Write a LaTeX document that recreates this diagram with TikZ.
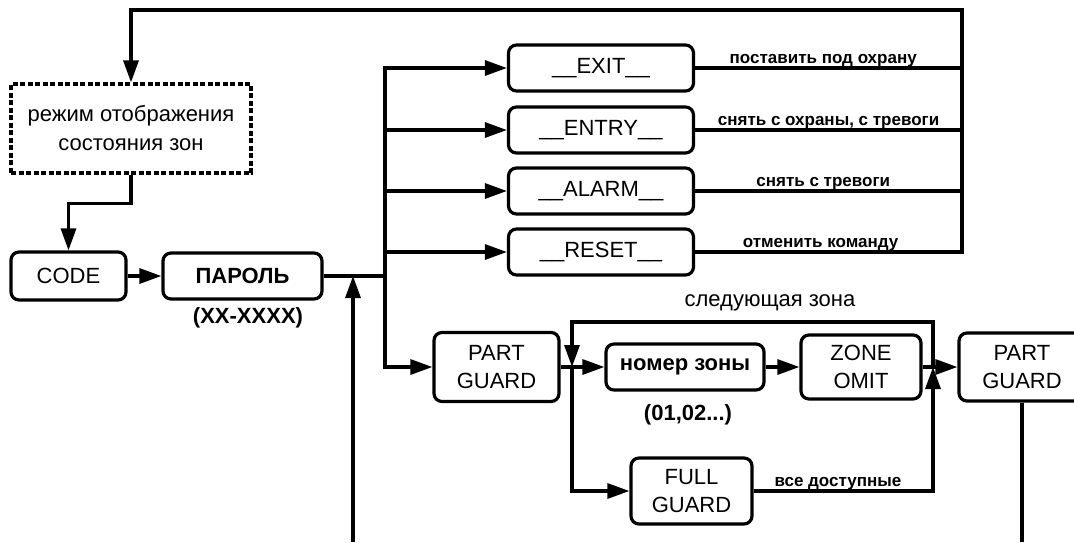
\documentclass[tikz,border=0pt]{standalone}
\usepackage{fontspec}
\setmainfont{Liberation Sans}
\usetikzlibrary{arrows.meta,calc}
\begin{document}
\begin{tikzpicture}[x=1pt,y=-1pt,line width=3.2pt,
  box/.style={draw, rounded corners=8pt, font=\fontsize{22}{28}\selectfont, align=center, inner sep=0pt},
  modebox/.style={draw, dash pattern=on 5pt off 2.5pt, font=\fontsize{22}{29}\selectfont, align=center, inner sep=0pt},
  bold/.style={font=\bfseries\fontsize{22}{27}\selectfont},
  note/.style={font=\bfseries\fontsize{22}{27}\selectfont, anchor=base, inner sep=0pt},
  arr/.style={-{Triangle[length=22pt,width=15pt]}},
  lbl/.style={font=\bfseries\fontsize{17}{19}\selectfont, inner sep=0pt, anchor=base, yshift=4.5pt},
  plain/.style={font=\fontsize{22}{27}\selectfont, anchor=base, inner sep=0pt}
]
\useasboundingbox (0,0) rectangle (1074,542);
\clip (0,0) rectangle (1074,542);

% nodes
\node[modebox, minimum width=240pt, minimum height=89pt] (mode) at (131,128.5) {режим отображения\\состояния зон};
\node[box, minimum width=115pt, minimum height=48pt] (code) at (68.5,276) {CODE};
\node[box, bold, minimum width=159pt, minimum height=46pt] (pass) at (242.5,276) {ПАРОЛЬ};
\node[note] (passnote) at (248,323) {(XX-XXXX)};

\node[box, minimum width=185pt, minimum height=46pt] (exit) at (601,68) {\_\_EXIT\_\_};
\node[box, minimum width=185pt, minimum height=46pt] (entry) at (601,130) {\_\_ENTRY\_\_};
\node[box, minimum width=185pt, minimum height=46pt] (alarm) at (601,191) {\_\_ALARM\_\_};
\node[box, minimum width=185pt, minimum height=46pt] (reset) at (601,252) {\_\_RESET\_\_};

\node[box, minimum width=125pt, minimum height=69pt] (pg1) at (496.5,367) {PART\\GUARD};
\node[box, bold, minimum width=158pt, minimum height=46pt] (zone) at (685,367) {номер зоны};
\node[note] (zonenote) at (688,420) {(01,02...)};
\node[box, minimum width=120pt, minimum height=64pt] (omit) at (861,367) {ZONE\\OMIT};
\node[box, minimum width=126pt, minimum height=68pt] (pg2) at (1022,367) {PART\\GUARD};
\node[box, minimum width=121pt, minimum height=66pt] (fg) at (691.5,491) {FULL\\GUARD};
\node[plain] (next) at (770,306) {следующая зона};

% coordinates
\coordinate (bus) at (385,276);
\coordinate (R) at (962,10);
\coordinate (J2) at (572,367);
\coordinate (J3) at (933,367);
\coordinate (LT) at (572,322);
\coordinate (inA) at (353,542);
\coordinate (outB) at (1022,542);

% connectors
\draw[arr] (code) -- (pass);
\draw (pass.east) -- (bus);
\draw[arr] (bus) |- (exit.west);
\draw[arr] (bus) |- (entry.west);
\draw[arr] (bus) |- (alarm.west);
\draw[arr] (bus) |- (reset.west);
\draw[arr] (bus) |- (pg1.west);
\draw[arr] (inA) -- (inA |- pass.east);

\draw (exit.east) -- node[lbl,pos=0.48]{поставить под охрану} (exit.east -| R);
\draw (entry.east) -- node[lbl,pos=0.5]{снять с охраны, с тревоги} (entry.east -| R);
\draw (alarm.east) -- node[lbl,pos=0.48]{снять с тревоги} (alarm.east -| R);
\draw[arr] (reset.east) -- node[lbl,pos=0.47]{отменить команду} (reset.east -| R) -- (R) -| (mode.north);
\draw[arr] (mode.south) -- ++(0,29) -| (code.north);

\draw[arr] (pg1.east) -- (zone.west);
\draw[arr] (J2) |- (fg.west);
\draw[arr] (zone) -- (omit);
\draw[arr] (omit) -- (pg2);
\draw[arr] (J3) -- (J3 |- LT) -- (LT) -- (J2);
\draw[arr] (fg.east) -- node[lbl,pos=0.47]{все доступные} (fg.east -| J3) -- (J3);
\draw (pg2.south) -- (outB);
\end{tikzpicture}
\end{document}
